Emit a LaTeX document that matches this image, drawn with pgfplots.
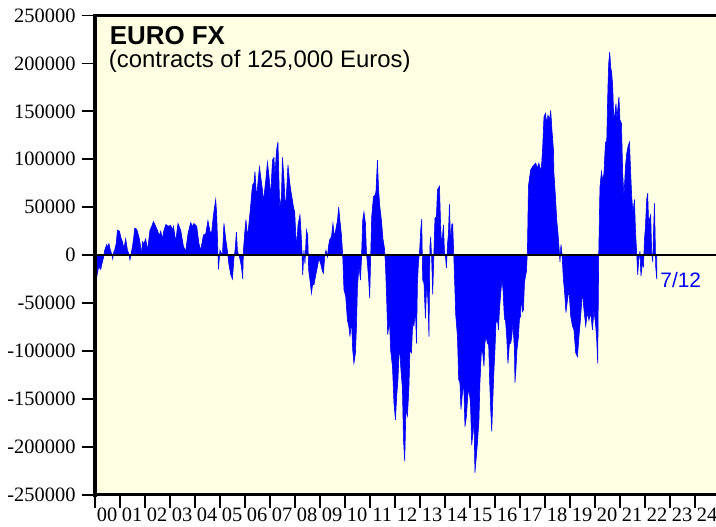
\documentclass[border=0pt]{standalone}
\usepackage{fontspec}
\setmainfont{Liberation Serif}
\newfontfamily\arial{Liberation Sans}
\usepackage{pgfplots}
\pgfplotsset{compat=1.18}
\definecolor{bgyellow}{RGB}{255,255,228}
\begin{document}
\begin{tikzpicture}
\begin{axis}[
  at={(94.7bp,32.3bp)}, anchor=south west,
  scale only axis, width=621.3bp, height=479.2bp,
  xmin=2000, xmax=2024.852, ymin=-250000, ymax=250000,
  scaled ticks=false,
  axis line style={draw=none},
  axis background/.style={fill=bgyellow},
  tick pos=left,
  tick align=outside,
  major tick length=13bp,
  every tick/.style={black, line width=1.8bp},
  xtick={2000,2001,2002,2003,2004,2005,2006,2007,2008,2009,2010,2011,2012,2013,2014,2015,2016,2017,2018,2019,2020,2021,2022,2023,2024},
  xticklabels={00,01,02,03,04,05,06,07,08,09,10,11,12,13,14,15,16,17,18,19,20,21,22,23,24},
  ytick={-250000,-200000,-150000,-100000,-50000,0,50000,100000,150000,200000,250000},
  yticklabels={-250000,-200000,-150000,-100000,-50000,0,50000,100000,150000,200000,250000},
  tick label style={font=\fontsize{20.5}{24}\selectfont, inner sep=0pt},
  xticklabel style={anchor=north, xshift=12.5bp, yshift=-0.5bp},
  yticklabel style={anchor=east, xshift=-6bp},
  clip=false,
]
\addplot[fill=blue, draw=blue, line width=0.6bp] coordinates {
(2000.00,9000) (2000.04,-5000) (2000.08,-23000) (2000.16,-12000) (2000.24,-15000) (2000.30,-8000) (2000.35,-3000) (2000.40,5000) (2000.48,11000) (2000.52,8000) (2000.57,12000) (2000.62,6000) (2000.67,2000) (2000.72,-4000) (2000.76,3000) (2000.80,5500) (2000.86,12000) (2000.91,26000) (2000.99,25000) (2001.05,18000) (2001.11,14000) (2001.17,7000) (2001.24,17000) (2001.31,5000) (2001.36,2000) (2001.41,-5000) (2001.46,2000) (2001.51,9000) (2001.56,18000) (2001.60,28000) (2001.68,27000) (2001.77,19000) (2001.82,12000) (2001.87,0) (2001.91,14000) (2001.97,12000) (2002.04,17000) (2002.11,5000) (2002.16,15000) (2002.21,26000) (2002.28,30000) (2002.35,35000) (2002.44,30000) (2002.51,26000) (2002.58,20000) (2002.64,25000) (2002.71,17000) (2002.77,26000) (2002.85,32000) (2002.93,30000) (2003.04,31000) (2003.10,26000) (2003.15,30000) (2003.24,14000) (2003.33,33000) (2003.44,26000) (2003.55,9000) (2003.64,4000) (2003.73,22000) (2003.84,34000) (2003.90,30000) (2003.97,33000) (2004.08,30000) (2004.17,12000) (2004.24,5000) (2004.35,21000) (2004.44,22000) (2004.53,36000) (2004.61,25000) (2004.67,22000) (2004.75,42000) (2004.84,58000) (2004.88,42000) (2004.95,-15000) (2005.01,5000) (2005.11,0) (2005.17,33000) (2005.24,17000) (2005.31,4000) (2005.37,-10000) (2005.44,-20000) (2005.51,-25000) (2005.57,-3000) (2005.61,4000) (2005.67,24000) (2005.71,4000) (2005.80,-3000) (2005.87,-12000) (2005.92,-25000)
(2005.95,5000) (2006.00,23000) (2006.05,37000) (2006.11,19000) (2006.17,33000) (2006.24,52000) (2006.31,73000) (2006.37,75000) (2006.41,87000) (2006.48,59000) (2006.53,76000) (2006.59,92000) (2006.64,82000) (2006.71,68000) (2006.75,56000) (2006.80,68000) (2006.85,80000) (2006.91,97000) (2006.97,83000) (2007.04,62000) (2007.11,99000) (2007.17,102000) (2007.21,82000) (2007.27,109000) (2007.33,118000) (2007.40,49000) (2007.47,61000) (2007.51,102000) (2007.57,80000) (2007.63,47000) (2007.68,68000) (2007.73,94000) (2007.80,76000) (2007.84,68000) (2007.91,57000) (2007.95,50000) (2008.00,45000) (2008.04,23000) (2008.08,9000) (2008.13,31000) (2008.21,42000) (2008.25,26000) (2008.29,5000) (2008.32,-21000) (2008.37,5000) (2008.41,-9000) (2008.47,26000) (2008.52,21000) (2008.56,-16000) (2008.61,-26000) (2008.67,-40000) (2008.72,-30000) (2008.77,-31000) (2008.84,-21000) (2008.91,-12000) (2008.97,-3500) (2009.04,-9000) (2009.11,-17000) (2009.15,-19000) (2009.20,-2000) (2009.25,5000) (2009.31,-2000) (2009.35,9000) (2009.40,16000) (2009.47,19000) (2009.53,33000) (2009.59,19000) (2009.64,26000) (2009.71,36000) (2009.76,50000) (2009.81,36000) (2009.87,21000) (2009.92,0) (2009.97,-36000) (2010.04,-43000) (2010.11,-68000) (2010.17,-75000) (2010.21,-85000) (2010.27,-68000) (2010.32,-99000) (2010.37,-113000) (2010.43,-102000) (2010.47,-75000) (2010.51,-33000) (2010.57,-12000) (2010.63,-26000) (2010.67,-5000) (2010.72,36000) (2010.77,45000) (2010.83,33000) (2010.87,2000) (2010.91,-9000) (2010.96,-26000) (2011.00,-45000) (2011.04,0) (2011.08,40000) (2011.15,61000) (2011.20,62000) (2011.25,66000) (2011.31,99000) (2011.35,71000) (2011.40,52000) (2011.47,36000) (2011.53,17000) (2011.59,7000) (2011.63,-9000) (2011.68,-47000) (2011.72,-83000) (2011.79,-68000) (2011.84,-100000)
(2011.91,-116000) (2011.97,-154000) (2012.03,-172000) (2012.08,-147000) (2012.13,-130000) (2012.19,-92000) (2012.24,-116000) (2012.31,-140000) (2012.35,-192000) (2012.40,-215000) (2012.45,-161000) (2012.51,-168000) (2012.57,-137000) (2012.61,-99000) (2012.67,-102000) (2012.72,-71000) (2012.77,-74000) (2012.83,-57000) (2012.87,-92000) (2012.91,-29000) (2012.95,-8000) (2013.00,5500) (2013.04,26000) (2013.08,37500) (2013.12,-26000) (2013.17,-29000) (2013.23,-66000) (2013.28,-29000) (2013.33,-47000) (2013.37,-85000) (2013.41,9000) (2013.44,19000) (2013.48,-5000) (2013.52,-41000) (2013.56,-5000) (2013.61,38500) (2013.67,40000) (2013.71,68000) (2013.75,70000) (2013.79,72000) (2013.83,37000) (2013.87,12500) (2013.91,19000) (2013.95,31500) (2013.99,3800) (2014.03,-1400) (2014.07,-13500) (2014.11,10700) (2014.15,23000) (2014.19,53000) (2014.24,9000) (2014.28,31500) (2014.32,32600) (2014.36,2000) (2014.40,-29000) (2014.44,-62000) (2014.51,-85000) (2014.56,-130000) (2014.61,-133000) (2014.65,-161000) (2014.71,-144000) (2014.76,-133000) (2014.81,-179000) (2014.87,-168000) (2014.92,-147000) (2014.97,-140000) (2015.03,-154000) (2015.08,-198000) (2015.13,-185000) (2015.17,-168000) (2015.21,-227000) (2015.25,-215000) (2015.31,-196000) (2015.37,-172000) (2015.41,-133000) (2015.47,-99000) (2015.52,-102000) (2015.57,-116000) (2015.61,-92000) (2015.65,-85000) (2015.71,-92000) (2015.76,-94000) (2015.80,-133000) (2015.84,-161000) (2015.88,-184000) (2015.92,-154000) (2015.96,-126000) (2016.01,-99000) (2016.05,-71000) (2016.11,-67000) (2016.15,-78000) (2016.19,-57000) (2016.24,-40000) (2016.29,-26000) (2016.33,-35000) (2016.39,-67000) (2016.43,-67000) (2016.48,-85000) (2016.53,-113000) (2016.59,-92000) (2016.64,-92000) (2016.68,-86000) (2016.73,-71000) (2016.79,-99000) (2016.81,-133000) (2016.85,-119000) (2016.89,-99000) (2016.95,-85000) (2016.99,-67000) (2017.03,-64000) (2017.07,-43000) (2017.11,-59000) (2017.15,-57000) (2017.19,-29000) (2017.23,-22000) (2017.27,-17000) (2017.31,6000) (2017.35,72000) (2017.39,80000)
(2017.44,89000) (2017.51,92000) (2017.57,94000) (2017.64,96000) (2017.71,91000) (2017.77,96000) (2017.84,87000) (2017.88,96000) (2017.92,113000) (2017.97,144000) (2018.03,148000) (2018.08,137500) (2018.13,146000) (2018.19,141000) (2018.24,151000) (2018.29,130500) (2018.35,110000) (2018.37,85000) (2018.43,61000) (2018.48,37000) (2018.53,23000) (2018.59,2000) (2018.61,-7000) (2018.65,11000) (2018.69,2000) (2018.75,-26000) (2018.80,-40000) (2018.85,-60000) (2018.91,-47000) (2018.97,-36000) (2019.04,-64000) (2019.11,-74000) (2019.17,-78000) (2019.24,-102000) (2019.31,-106000) (2019.37,-85000) (2019.44,-64000) (2019.51,-38000) (2019.57,-57000) (2019.64,-74000) (2019.71,-60000) (2019.77,-68000) (2019.84,-60000) (2019.91,-78000) (2019.97,-57000) (2020.04,-74000) (2020.08,-88000) (2020.12,-113000) (2020.16,-1000) (2020.21,71000) (2020.27,87000) (2020.32,78000) (2020.37,85000) (2020.43,118000) (2020.48,118000) (2020.53,176000) (2020.56,200000) (2020.60,212000) (2020.64,196000) (2020.68,190000) (2020.72,176000) (2020.76,144000) (2020.80,146000) (2020.85,158000) (2020.89,141000) (2020.93,155000) (2020.97,165000) (2021.01,141000) (2021.07,137500) (2021.12,85000) (2021.17,61000) (2021.23,92000) (2021.28,106000) (2021.33,113000) (2021.39,118000) (2021.44,85000) (2021.48,61000) (2021.53,44000) (2021.59,58000) (2021.63,26000) (2021.68,2000) (2021.72,-20500) (2021.76,-5000) (2021.81,4000) (2021.85,-22000) (2021.91,-8000) (2021.95,-12000) (2021.99,16000) (2022.03,30000) (2022.08,58000) (2022.12,64600) (2022.16,30000) (2022.20,38500) (2022.24,42000) (2022.28,2000) (2022.32,-7000) (2022.36,30000) (2022.39,54000) (2022.41,30000) (2022.44,-12000) (2022.48,-25000)
} \closedcycle;
\addplot[black, line width=1.3bp] coordinates {(2000,0) (2024.852,0)};
\draw[black, line width=3.2bp] (rel axis cs:0,1) -- (rel axis cs:1,1);
\draw[black, line width=3.2bp] (rel axis cs:0,0) -- (rel axis cs:1,0);
\draw[black, line width=3.6bp, line cap=rect] (rel axis cs:0,0) -- (rel axis cs:0,1);
\node[anchor=base west, inner sep=0pt, font=\arial\bfseries\fontsize{26}{30}\selectfont] at (axis cs:2000.6,219800) {EURO FX};
\node[anchor=base west, inner sep=0pt, font=\arial\fontsize{24}{28}\selectfont] at (axis cs:2000.56,195800) {(contracts of 125,000 Euros)};
\node[anchor=base west, inner sep=0pt, text=blue, font=\arial\fontsize{21}{25}\selectfont] at (axis cs:2022.62,-33500) {7/12};
\end{axis}
\pgfresetboundingbox
\useasboundingbox (0,0) rectangle (716bp,527bp);
\end{tikzpicture}
\end{document}
